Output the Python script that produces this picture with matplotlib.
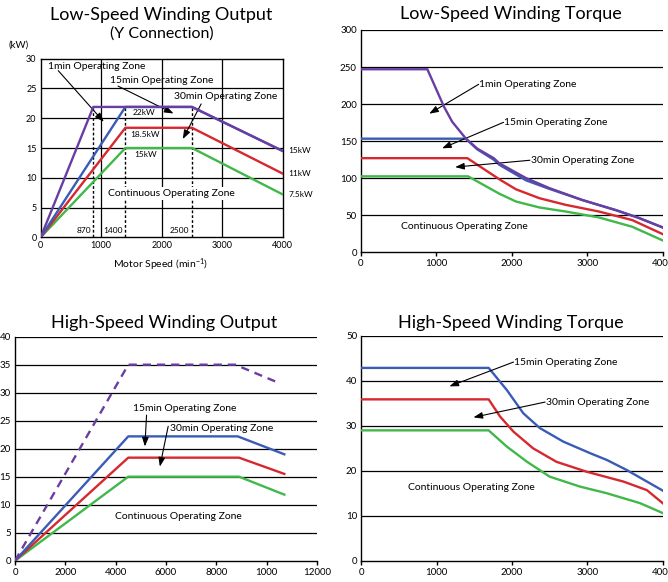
import matplotlib.pyplot as plt

plt.rcParams['font.family'] = ['Lato', 'DejaVu Sans']
plt.rcParams['mathtext.default'] = 'regular'

PURPLE = '#6a3da3'
BLUE = '#3a5cb6'
RED = '#d6282e'
GREEN = '#40b84a'

# Low-speed winding output (kW)
lso_speed_1min = [0, 870, 2500, 4000]
lso_1min = [0, 21.9, 21.9, 14.5]
lso_speed = [0, 1400, 2500, 4000]
lso_15min = [0, 21.9, 21.9, 14.5]
lso_30min = [0, 18.4, 18.4, 10.7]
lso_cont = [0, 15.0, 15.0, 7.2]
lso_marks = [870, 1400, 2500]
lso_end_labels = ['15kW', '11kW', '7.5kW']

# Low-speed winding torque (N.m)
lst_speed_1min = [0, 880, 1100, 1210, 1390, 1540, 1760, 1835, 2190, 2500, 2935, 3375, 3680, 4000]
lst_1min = [247, 247, 196.5, 176, 153.5, 140, 127, 120, 100, 86.5, 70.5, 57, 46.5, 33.5]
lst_speed_15min = [0, 1390, 1540, 1760, 1835, 2190, 2500, 2935, 3375, 3680, 4000]
lst_15min = [153.3, 153.3, 139, 125, 118, 97, 85.5, 70.5, 57, 46.5, 33.5]
lst_speed_30min = [0, 1410, 1850, 2055, 2365, 2715, 3155, 3595, 4000]
lst_30min = [127, 127, 97.5, 85, 73, 64, 55, 43.5, 24.5]
lst_speed_cont = [0, 1420, 1835, 2055, 2365, 2715, 3155, 3595, 4000]
lst_cont = [102.5, 102.5, 79, 68.5, 60.5, 55, 47, 34.5, 16]

# High-speed winding output (kW)
hso_speed_1min = [0, 4500, 8750, 10350]
hso_1min = [0, 35, 35, 32]
hso_speed_15min = [0, 4500, 8850, 10700]
hso_15min = [0, 22.2, 22.2, 19.0]
hso_speed_30min = [0, 4500, 8900, 10700]
hso_30min = [0, 18.4, 18.4, 15.5]
hso_speed_cont = [0, 4500, 8900, 10700]
hso_cont = [0, 15.0, 15.0, 11.8]
hso_xticks = [0, 2000, 4000, 6000, 8000, 10000, 12000]
hso_xticklabels = ['0', '2000', '4000', '6000', '8000', '1000', '12000']

# High-speed winding torque (N.m)
hst_speed_15min = [0, 1690, 1930, 2150, 2370, 2680, 3040, 3260, 3520, 4000]
hst_15min = [42.9, 42.9, 38, 32.8, 29.5, 26.5, 23.9, 22.4, 20.2, 15.6]
hst_speed_30min = [0, 1690, 1840, 2020, 2280, 2590, 2990, 3480, 3790, 4000]
hst_30min = [35.9, 35.9, 32.1, 28.7, 25, 22, 19.8, 17.6, 15.7, 12.8]
hst_speed_cont = [0, 1690, 1930, 2200, 2500, 2900, 3260, 3700, 4000]
hst_cont = [29, 29, 25.4, 22, 18.7, 16.5, 15, 12.8, 10.6]

LW = 1.7
ANN = 7.5
ARROW = dict(arrowstyle='-|>,head_length=0.6,head_width=0.22', color='black',
             lw=0.8, shrinkA=0, shrinkB=0, mutation_scale=9)


def open_axes(ax, xmax, ymax, ystep):
    ax.set_xlim(0, xmax)
    ax.set_ylim(0, ymax)
    ax.set_yticks(range(0, ymax + 1, ystep))
    for y in range(ystep, ymax + 1, ystep):
        ax.axhline(y, color='black', lw=0.9, zorder=1)
    for s in ['top', 'right']:
        ax.spines[s].set_visible(False)
    for s in ['left', 'bottom']:
        ax.spines[s].set_linewidth(1.0)
    ax.tick_params(axis='y', length=0, labelsize=7, pad=3)
    ax.tick_params(axis='x', length=3, width=1.0, labelsize=7, pad=2)


def arrow(ax, tail, tip):
    ax.annotate('', xy=tip, xytext=tail, arrowprops=ARROW)


fig = plt.figure(figsize=(6.68, 5.82), dpi=100)

# ---------------- top left ----------------
ax = fig.add_axes([0.0609, 0.5923, 0.3623, 0.3068])
ax.set_xlim(0, 4000)
ax.set_ylim(0, 30)
ax.set_xticks([0, 1000, 2000, 3000, 4000])
ax.set_yticks([0, 5, 10, 15, 20, 25, 30])
for x in [1000, 2000, 3000]:
    ax.axvline(x, color='black', lw=0.9, zorder=1)
for y in [5, 10, 15, 20, 25]:
    ax.axhline(y, color='black', lw=0.9, zorder=1)
for s in ax.spines.values():
    s.set_linewidth(1.0)
ax.tick_params(length=0, labelsize=6.5, pad=3)
ax.plot(lso_speed, lso_cont, color=GREEN, lw=LW, zorder=3)
ax.plot(lso_speed, lso_30min, color=RED, lw=LW, zorder=3)
ax.plot(lso_speed, lso_15min, color=BLUE, lw=LW, zorder=3)
ax.plot(lso_speed_1min, lso_1min, color=PURPLE, lw=LW, zorder=4)
for m in lso_marks:
    ax.plot([m, m], [0, lso_1min[1]], color='black', lw=1.0, ls=(0, (2, 1.5)), zorder=2)
    ax.text(m - 40, 1.1, str(m), fontsize=6, ha='right', va='center')
for lab, v in zip(lso_end_labels, [lso_1min[-1], lso_30min[-1], lso_cont[-1]]):
    ax.annotate(lab, xy=(4000, v), xytext=(4, 0), textcoords='offset points',
                fontsize=6, ha='left', va='center', annotation_clip=False)
ax.text(125, 28.7, '1min Operating Zone', fontsize=ANN, va='center')
arrow(ax, (290, 28.0), (1043, 19.4))
ax.text(1142, 26.3, '15min Operating Zone', fontsize=ANN, va='center')
arrow(ax, (1279, 25.4), (2196, 20.8))
ax.text(2196, 23.6, '30min Operating Zone', fontsize=ANN, va='center')
arrow(ax, (2652, 22.4), (2349, 16.5))
ax.text(1526, 21.0, '22kW', fontsize=6, va='center')
ax.text(1488, 17.2, '18.5kW', fontsize=6, va='center')
ax.text(1554, 13.9, '15kW', fontsize=6, va='center')
ax.text(1114, 7.3, 'Continuous Operating Zone', fontsize=ANN, va='center', zorder=5,
        bbox=dict(facecolor='white', edgecolor='none', pad=1.5))

fig.text(0.2418, 0.9742, 'Low-Speed Winding Output', fontsize=13, ha='center', va='center')
fig.text(0.2418, 0.9416, '(Y Connection)', fontsize=11.5, ha='center', va='center')
fig.text(0.012, 0.9227, '(kW)', fontsize=7, ha='left', va='center')
fig.text(0.2407, 0.5447, 'Motor Speed (min$^{-1}$)', fontsize=7.5, ha='center', va='center')

# ---------------- top right ----------------
ax = fig.add_axes([0.5404, 0.5665, 0.4517, 0.382])
open_axes(ax, 4000, 300, 50)
ax.set_xticks([0, 1000, 2000, 3000, 4000])
ax.plot(lst_speed_cont, lst_cont, color=GREEN, lw=LW, zorder=3)
ax.plot(lst_speed_30min, lst_30min, color=RED, lw=LW, zorder=3)
ax.plot(lst_speed_15min, lst_15min, color=BLUE, lw=LW, zorder=3)
ax.plot(lst_speed_1min, lst_1min, color=PURPLE, lw=LW, zorder=4)
ax.text(1567, 226.7, '1min Operating Zone', fontsize=ANN, va='center')
arrow(ax, (1560, 226.7), (905, 187))
ax.text(1897, 175.4, '15min Operating Zone', fontsize=ANN, va='center')
arrow(ax, (1890, 175.4), (1075, 140.3))
ax.text(2248, 124.2, '30min Operating Zone', fontsize=ANN, va='center')
arrow(ax, (2240, 124.2), (1248, 115))
ax.text(524, 34.5, 'Continuous Operating Zone', fontsize=ANN, va='center')
fig.text(0.765, 0.976, 'Low-Speed Winding Torque', fontsize=13, ha='center', va='center')

# ---------------- bottom left ----------------
ax = fig.add_axes([0.0225, 0.0366, 0.4521, 0.3849])
open_axes(ax, 12000, 40, 5)
ax.set_xticks(hso_xticks)
ax.set_xticklabels(hso_xticklabels)
ax.plot(hso_speed_cont, hso_cont, color=GREEN, lw=LW, zorder=3)
ax.plot(hso_speed_30min, hso_30min, color=RED, lw=LW, zorder=3)
ax.plot(hso_speed_15min, hso_15min, color=BLUE, lw=LW, zorder=3)
ax.plot(hso_speed_1min, hso_1min, color=PURPLE, lw=LW, ls=(0, (3.5, 2.5)), zorder=4)
ax.text(4697, 27.2, '15min Operating Zone', fontsize=ANN, va='center')
arrow(ax, (5226, 26.0), (5160, 20.4))
ax.text(6152, 23.6, '30min Operating Zone', fontsize=ANN, va='center')
arrow(ax, (6086, 24.0), (5755, 16.8))
ax.text(3969, 7.86, 'Continuous Operating Zone', fontsize=ANN, va='center')
fig.text(0.2455, 0.445, 'High-Speed Winding Output', fontsize=13, ha='center', va='center')

# ---------------- bottom right ----------------
ax = fig.add_axes([0.5409, 0.0366, 0.4512, 0.3861])
open_axes(ax, 4000, 50, 10)
ax.set_xticks([0, 1000, 2000, 3000, 4000])
ax.plot(hst_speed_cont, hst_cont, color=GREEN, lw=LW, zorder=3)
ax.plot(hst_speed_30min, hst_30min, color=RED, lw=LW, zorder=3)
ax.plot(hst_speed_15min, hst_15min, color=BLUE, lw=LW, zorder=3)
ax.text(2028, 44.2, '15min Operating Zone', fontsize=ANN, va='center')
arrow(ax, (2020, 44.2), (1169, 38.8))
ax.text(2449, 35.3, '30min Operating Zone', fontsize=ANN, va='center')
arrow(ax, (2440, 35.3), (1488, 31.9))
ax.text(620, 16.3, 'Continuous Operating Zone', fontsize=ANN, va='center')
fig.text(0.7645, 0.4445, 'High-Speed Winding Torque', fontsize=13, ha='center', va='center')

fig.savefig('out.png', dpi=100)
